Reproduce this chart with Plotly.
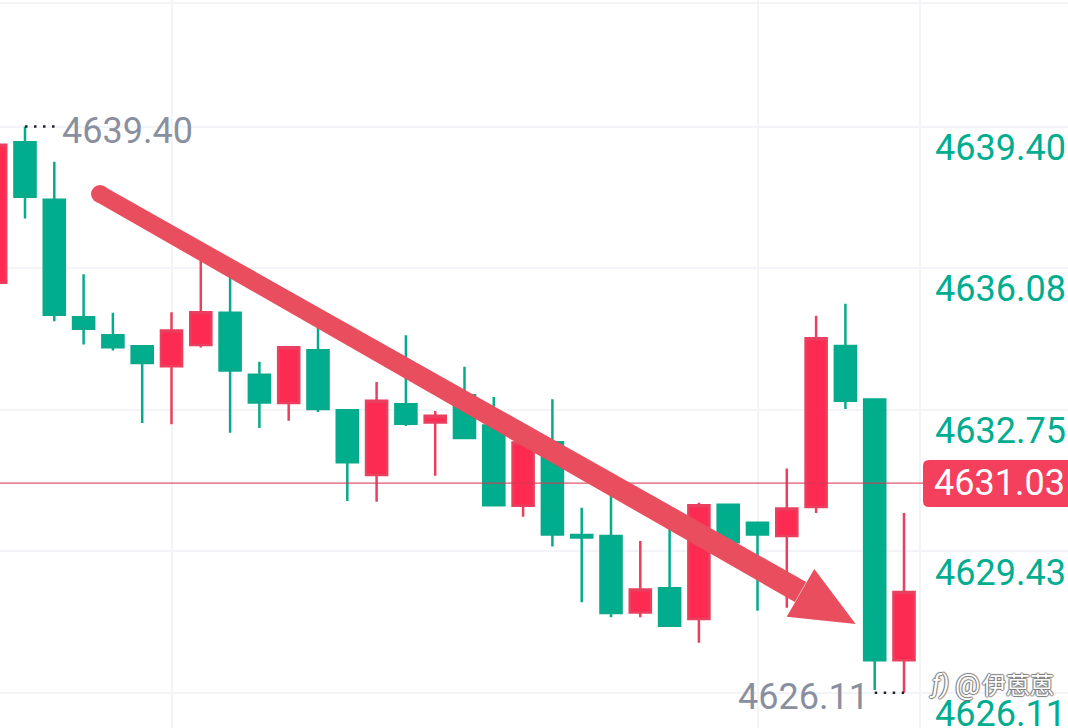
import plotly.graph_objects as go

W, H = 1068, 728

# Candle values, left to right (the first one is clipped by the left edge)
candle_index = list(range(32))
open_values = [4635.73, 4639.03, 4637.68, 4634.92, 4634.50, 4634.24, 4633.77, 4634.27,
               4635.03, 4633.57, 4632.91, 4634.15, 4632.74, 4631.22, 4632.88, 4632.45,
               4633.09, 4632.38, 4630.50, 4631.99, 4629.81, 4629.79, 4627.99, 4628.56,
               4627.84, 4630.52, 4630.10, 4629.79, 4630.47, 4634.25, 4632.99, 4626.87]
close_values = [4638.97, 4637.75, 4634.98, 4634.65, 4634.22, 4633.85, 4634.61, 4635.04,
                4633.67, 4632.92, 4634.22, 4632.77, 4631.52, 4632.96, 4632.42, 4632.61,
                4632.09, 4630.51, 4631.98, 4629.82, 4629.75, 4627.98, 4628.53, 4627.68,
                4630.51, 4629.64, 4629.82, 4630.43, 4634.43, 4632.96, 4626.87, 4628.47]
high_values = [4638.97, 4639.40, 4638.57, 4635.93, 4635.03, 4634.25, 4635.04, 4636.27,
               4635.91, 4633.88, 4634.24, 4634.67, 4632.74, 4633.40, 4634.50, 4632.72,
               4633.76, 4633.05, 4631.98, 4633.00, 4630.45, 4630.75, 4629.67, 4630.47,
               4630.57, 4630.52, 4630.10, 4631.37, 4634.96, 4635.24, 4632.99, 4630.33]
low_values = [4635.73, 4637.24, 4634.83, 4634.28, 4634.14, 4632.44, 4632.41, 4634.21,
              4632.21, 4632.32, 4632.49, 4632.70, 4630.61, 4630.59, 4632.37, 4631.20,
              4632.09, 4630.49, 4630.24, 4629.54, 4628.23, 4627.88, 4627.88, 4627.66,
              4627.28, 4629.64, 4628.03, 4628.10, 4630.33, 4632.77, 4626.17, 4626.11]

y_grid_values = [4642.30, 4639.40, 4636.08, 4632.75, 4629.43, 4626.11]
y_tick_labels = ["4639.40", "4636.08", "4632.75", "4629.43", "4626.11"]
x_grid_values = [6, 26, 31.55]
last_price = 4631.03
max_price = 4639.40
min_price = 4626.11
max_index = 1
min_index = 31

GREEN = "#00ad8c"
GREEN_WICK = "#08aa8c"
LABEL_GREEN = "#00ad90"
RED = "#fd2b52"
RED_WICK = "#ea3f5f"
ARROW = "#e94e5e"
GREY = "#8a8f9f"
GRID = "#f3f4f8"
FONT = "Roboto"
WATERMARK_SHADOW = "1px 0 1px #777, -1px 0 1px #777, 0 1px 1px #777, 0 -1px 1px #777"


def px(x):
    return x / W


def py(y):
    return 1 - y / H


def poly(points):
    return "M " + " L ".join(f"{px(a):.5f},{py(b):.5f}" for a, b in points) + " Z"


fig = go.Figure()

fig.add_trace(go.Candlestick(
    x=candle_index, open=open_values, high=high_values, low=low_values, close=close_values,
    increasing=dict(line=dict(color=RED_WICK, width=2.5), fillcolor=RED),
    decreasing=dict(line=dict(color=GREEN_WICK, width=2.5), fillcolor=GREEN),
    hoverinfo="skip", showlegend=False,
))

# Dotted leaders to the extreme-price labels
fig.add_trace(go.Scatter(x=[max_index, max_index + 1.2], y=[max_price, max_price], mode="lines",
                         line=dict(color="#222222", width=2.5, dash="2.5px,6.5px"),
                         hoverinfo="skip", showlegend=False))
fig.add_trace(go.Scatter(x=[min_index - 1, min_index], y=[min_price, min_price], mode="lines",
                         line=dict(color="#222222", width=2.5, dash="2.5px,6.5px"),
                         hoverinfo="skip", showlegend=False))

shapes = [
    # last-price line
    dict(type="line", xref="paper", yref="y", x0=0, x1=px(923), y0=last_price, y1=last_price,
         line=dict(color="#d93a55", width=1.3), opacity=0.85, layer="above"),
    # last-price tag
    dict(type="path", xref="paper", yref="paper", fillcolor="#f5405d", line=dict(width=0),
         path=(f"M {px(929):.5f},{py(460):.5f} L {px(1068):.5f},{py(460):.5f} "
               f"L {px(1068):.5f},{py(507):.5f} L {px(929):.5f},{py(507):.5f} "
               f"Q {px(923):.5f},{py(507):.5f} {px(923):.5f},{py(501):.5f} "
               f"L {px(923):.5f},{py(466):.5f} Q {px(923):.5f},{py(460):.5f} {px(929):.5f},{py(460):.5f} Z")),
    # drawn arrow: tapered shaft, round start, head
    dict(type="path", xref="paper", yref="paper", fillcolor=ARROW, line=dict(width=0), layer="above",
         path=poly([(104.2, 186.6), (806.2, 582.0), (794.8, 602.0), (95.8, 201.4)])),
    dict(type="circle", xref="paper", yref="paper", fillcolor=ARROW, line=dict(width=0), layer="above",
         x0=px(91), x1=px(109), y0=py(203), y1=py(185)),
    dict(type="path", xref="paper", yref="paper", fillcolor=ARROW, line=dict(width=0), layer="above",
         path=poly([(855.7, 624), (814.3, 569), (786.7, 616.7)])),
]

annotations = []
for value, label in zip(y_grid_values[1:], y_tick_labels):
    annotations.append(dict(xref="paper", yref="y", x=px(1068), y=float(label), text=label,
                            xanchor="right", yanchor="middle", yshift=-21.5, showarrow=False,
                            font=dict(family=FONT, size=36, color=LABEL_GREEN)))
annotations.append(dict(xref="paper", yref="y", x=px(1067), y=last_price, text=f"{last_price:.2f}",
                        xanchor="right", yanchor="middle", showarrow=False,
                        font=dict(family=FONT, size=36, color="#ffffff")))
annotations.append(dict(xref="paper", yref="y", x=px(60), y=max_price, text=f"{max_price:.2f}",
                        xanchor="left", yanchor="middle", yshift=-4.5, showarrow=False,
                        font=dict(family=FONT, size=36, color=GREY)))
annotations.append(dict(xref="paper", yref="y", x=px(736), y=min_price, text=f"{min_price:.2f}",
                        xanchor="left", yanchor="middle", yshift=-4, showarrow=False,
                        font=dict(family=FONT, size=36, color=GREY)))
annotations.append(dict(xref="paper", yref="paper", x=px(1056), y=py(683), text="伊蒽蒽",
                        xanchor="right", yanchor="middle", showarrow=False,
                        font=dict(family="Noto Sans CJK SC", size=24, color="#ffffff",
                                  shadow=WATERMARK_SHADOW)))
annotations.append(dict(xref="paper", yref="paper", x=px(967), y=py(684), text="@",
                        xanchor="center", yanchor="middle", showarrow=False,
                        font=dict(family=FONT, size=28, color="#ffffff", shadow=WATERMARK_SHADOW)))
annotations.append(dict(xref="paper", yref="paper", x=px(939), y=py(684), text="<i>ƒ)</i>",
                        xanchor="center", yanchor="middle", showarrow=False,
                        font=dict(family=FONT, size=26, color="#ffffff", shadow=WATERMARK_SHADOW)))

fig.update_layout(
    width=W, height=H, autosize=False,
    margin=dict(l=0, r=0, t=0, b=0),
    paper_bgcolor="#ffffff", plot_bgcolor="#ffffff",
    showlegend=False,
    boxgap=0.1, boxgroupgap=0.2,
    shapes=shapes, annotations=annotations,
    xaxis=dict(range=[0.1468, 36.597], rangeslider=dict(visible=False), showticklabels=False,
               ticks="", tickmode="array", tickvals=x_grid_values, showgrid=True,
               gridcolor=GRID, gridwidth=2, zeroline=False, showline=False),
    yaxis=dict(range=[4625.28, 4642.37], showticklabels=False, ticks="", tickmode="array",
               tickvals=y_grid_values, showgrid=True, gridcolor=GRID, gridwidth=2,
               zeroline=False, showline=False),
)

fig.write_html("out.html", config=dict(displayModeBar=False),
               post_script="document.body.style.margin='0';")
